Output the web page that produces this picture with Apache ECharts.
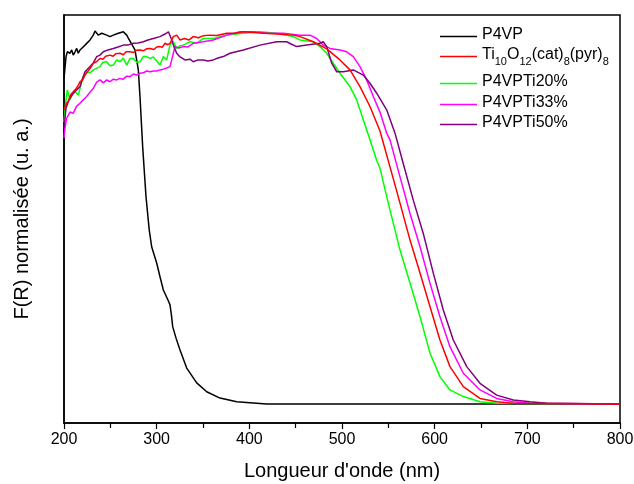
<!DOCTYPE html>
<html><head><meta charset="utf-8">
<script src="https://cdn.jsdelivr.net/npm/echarts@6/dist/echarts.min.js"></script>
<style>html,body{margin:0;padding:0;background:#fff}#c{width:634px;height:484px}</style>
</head><body><div id="c"></div>
<script>
const seriesNames = ['P4VP', 'Ti10O12(cat)8(pyr)8', 'P4VPTi20%', 'P4VPTi33%', 'P4VPTi50%'];
const xTicks = [200, 300, 400, 500, 600, 700, 800];

const P4VP = [[200,0.88],[202.2,0.939],[203.6,0.952],[206.5,0.948],[208.3,0.957],[210,0.943],[211.9,0.952],[213.7,0.961],[215.4,0.948],[217.3,0.957],[219.1,0.952],[222.7,0.970],[228.1,0.984],[231.6,0.997],[233.5,1.008],[237,0.997],[240.7,1.002],[246.1,0.997],[249.6,0.993],[253.2,0.997],[258.6,1.002],[264,1.006],[267.7,0.997],[269.4,0.989],[271.2,0.984],[276.6,0.957],[280.2,0.903],[282,0.831],[284.9,0.695],[288.5,0.560],[292,0.470],[294.6,0.425],[300,0.381],[303.6,0.344],[307.2,0.308],[312.2,0.281],[314.4,0.268],[315.9,0.241],[317.3,0.209],[320.9,0.178],[325.2,0.146],[332.4,0.097],[343.2,0.057],[354,0.033],[368.3,0.016],[386.4,0.006],[418.7,0],[800,0]];

const TI = [[200,0.795],[202.9,0.813],[205,0.82],[207,0.835],[210,0.844],[213,0.852],[215,0.86],[217.3,0.871],[220,0.875],[222.7,0.889],[226,0.9],[229,0.91],[231.6,0.921],[235,0.925],[238.8,0.934],[242,0.932],[245,0.94],[249.6,0.943],[253,0.94],[256,0.947],[260.4,0.948],[264,0.944],[267,0.952],[271.2,0.952],[275,0.95],[278,0.956],[282,0.957],[286,0.955],[289,0.96],[292.8,0.961],[297,0.958],[300,0.965],[303.6,0.966],[306,0.964],[309,0.975],[312,0.971],[314.4,0.975],[318,0.993],[321.6,0.997],[325.2,0.984],[330,0.988],[335,0.984],[339.5,0.993],[345,0.99],[350,0.995],[357.5,0.997],[365,0.996],[375.6,1.002],[385,1.002],[393.5,1.006],[411.5,1.003],[429.5,1.0],[447.4,0.997],[454.7,0.993],[469,0.979],[483.5,0.96],[497.8,0.930],[508.6,0.903],[519.4,0.858],[530.2,0.804],[541,0.738],[551.8,0.641],[562.6,0.543],[573.4,0.443],[584.2,0.354],[595,0.263],[605.7,0.173],[616.5,0.101],[630.9,0.047],[648.9,0.015],[666.9,0.006],[684.8,0.002],[800,0]];

const TI20 = [[200,0.762],[201.6,0.81],[203.6,0.849],[206.5,0.822],[208.6,0.835],[211.9,0.844],[215.4,0.835],[218.3,0.862],[220.8,0.885],[224.5,0.898],[228.1,0.895],[231.6,0.903],[235.6,0.908],[238.8,0.912],[242.1,0.924],[246.1,0.925],[249.6,0.914],[253.2,0.916],[256.9,0.930],[260.4,0.925],[264,0.935],[267.7,0.916],[271.2,0.934],[274.8,0.934],[278.4,0.924],[282,0.925],[285.6,0.939],[289.2,0.939],[292.8,0.934],[296.4,0.938],[300,0.927],[303.6,0.916],[307.2,0.939],[310.8,0.930],[314.4,0.970],[317.7,0.981],[321.6,0.961],[325.2,0.968],[328.7,0.970],[336,0.979],[343.2,0.975],[350.3,0.988],[361.1,0.988],[375.6,0.997],[393.5,1.002],[411.5,1.006],[429.5,1.002],[447.4,0.993],[454.7,0.984],[469,0.979],[476.3,0.966],[483.5,0.948],[490.6,0.921],[497.8,0.894],[508.6,0.858],[515.8,0.822],[523,0.768],[530.2,0.714],[537.4,0.659],[541,0.637],[551.8,0.524],[562.6,0.416],[573.4,0.327],[584.2,0.236],[595,0.137],[605.7,0.074],[616.5,0.038],[630.9,0.020],[648.9,0.006],[666.9,0.002],[800,0]];

const TI33 = [[200,0.719],[201.1,0.746],[202.9,0.773],[204.6,0.776],[206.5,0.789],[210,0.786],[213.7,0.805],[217.3,0.813],[220.8,0.822],[224.5,0.831],[228.1,0.843],[231.6,0.853],[235.3,0.870],[238.8,0.876],[242.4,0.868],[246.1,0.876],[249.6,0.871],[253.2,0.878],[256.9,0.876],[260.4,0.880],[264,0.878],[267.7,0.886],[271.2,0.885],[274.8,0.892],[278.4,0.889],[282,0.894],[285.6,0.895],[289.2,0.9],[292.8,0.898],[296.4,0.9],[300,0.9],[303.6,0.903],[307.2,0.905],[310.8,0.908],[314.4,0.912],[316.3,0.912],[318,0.948],[319.8,0.966],[324.1,0.962],[328.7,0.966],[333.8,0.965],[339.5,0.975],[350.3,0.979],[361.1,0.984],[375.6,0.997],[389.9,1.006],[404.3,1.006],[418.7,1.002],[436.6,1.002],[454.7,0.997],[465.5,0.997],[472.7,0.988],[479.8,0.970],[487,0.961],[497.8,0.957],[505.1,0.952],[512.2,0.939],[519.4,0.912],[526.6,0.876],[533.8,0.831],[541,0.789],[548.2,0.732],[551.8,0.714],[562.6,0.614],[573.4,0.515],[584.2,0.425],[595,0.326],[605.7,0.236],[616.5,0.155],[630.9,0.083],[648.9,0.038],[666.9,0.015],[684.8,0.006],[702.9,0.002],[800,0]];

const TI50 = [[200,0.746],[201.1,0.773],[202.2,0.8],[204.6,0.817],[206.5,0.827],[210,0.840],[213.7,0.849],[217.3,0.858],[219.4,0.876],[222.7,0.898],[228.1,0.912],[231.6,0.922],[235.3,0.939],[238.8,0.943],[242.4,0.952],[247.5,0.957],[253.2,0.961],[258.3,0.965],[264,0.970],[269,0.970],[274.8,0.975],[279.9,0.976],[285.6,0.979],[290.6,0.984],[296.4,0.988],[303.6,0.993],[309,1.0],[312.7,1.006],[314.4,1.003],[316.3,0.984],[318,0.970],[321.6,0.948],[325.2,0.938],[330.6,0.930],[336,0.932],[339.5,0.925],[344.6,0.930],[350.3,0.930],[355.4,0.927],[361.1,0.930],[366.2,0.935],[371.9,0.939],[379.1,0.948],[393.5,0.957],[411.5,0.970],[429.5,0.979],[440.3,0.979],[445,0.973],[451.1,0.966],[461.9,0.970],[476.3,0.975],[479.8,0.979],[483.5,0.966],[488.9,0.921],[494.3,0.898],[501.4,0.898],[512.2,0.903],[523,0.889],[530.2,0.867],[537.4,0.840],[548.2,0.795],[557.2,0.732],[566.1,0.650],[576.9,0.551],[587.7,0.461],[598.6,0.353],[609.3,0.254],[620.1,0.173],[634.6,0.101],[648.9,0.056],[666.9,0.024],[684.8,0.011],[702.9,0.006],[720.9,0.002],[800,0]];

const colors = ['#000000', '#ff0000', '#00ff00', '#ff00ff', '#800080'];
const dataSets = [P4VP, TI, TI20, TI33, TI50];
const zs = [2, 6, 3, 4, 5];
const legendTops = [22, 42, 69, 90, 110];

const font = '"Liberation Sans", Arial, sans-serif';
const chart = echarts.init(document.getElementById('c'), null, {renderer: 'canvas'});

const legends = seriesNames.map((n, i) => ({
  data: [{name: n, itemStyle: {color: colors[i]}}],
  left: 435,
  top: legendTops[i],
  orient: 'vertical',
  itemWidth: 37,
  itemHeight: 10,
  icon: 'path://M0,4.2 L37,4.2 L37,5.8 L0,5.8 Z',
  selectedMode: false,
  formatter: name => name === 'Ti10O12(cat)8(pyr)8'
      ? '{n|Ti}{s|10}{n|O}{s|12}{n|(cat)}{s|8}{n|(pyr)}{s|8}' : '{n|' + name + '}',
  textStyle: {
    color: '#000', fontFamily: font, fontSize: 16,
    rich: {
      n: {fontFamily: font, fontSize: 16, color: '#000', lineHeight: 19, verticalAlign: 'top'},
      s: {fontFamily: font, fontSize: 11, color: '#000', lineHeight: 19, verticalAlign: 'top', padding: [9, 0, 0, 0]}
    }
  }
}));

chart.setOption({
  animation: false,
  backgroundColor: '#fff',
  grid: {left: 64, right: 14, top: 15, bottom: 61, outerBoundsMode: 'none', containLabel: false,
         show: true, borderColor: '#000', borderWidth: 1.5, backgroundColor: 'transparent'},
  legend: legends,
  xAxis: {
    type: 'value', min: xTicks[0], max: xTicks[xTicks.length - 1], interval: 100,
    name: "Longueur d'onde (nm)", nameLocation: 'middle', nameGap: 38,
    nameTextStyle: {fontFamily: font, fontSize: 20, color: '#000'},
    axisLine: {show: true, onZero: false, lineStyle: {color: '#000', width: 1.5}},
    axisTick: {show: true, length: 6, inside: false, lineStyle: {color: '#000', width: 1.2}},
    minorTick: {show: true, splitNumber: 2, length: 5, lineStyle: {color: '#000', width: 1.2}},
    axisLabel: {fontFamily: font, fontSize: 16, color: '#000', margin: 9},
    splitLine: {show: false}
  },
  yAxis: {
    type: 'value', min: -0.0514, max: 1.0514,
    name: 'F(R) normalisée (u. a.)', nameLocation: 'middle', nameGap: 32,
    nameTextStyle: {fontFamily: font, fontSize: 20, color: '#000'},
    axisLine: {show: true, onZero: false, lineStyle: {color: '#000', width: 1.5}},
    axisTick: {show: false}, axisLabel: {show: false}, splitLine: {show: false}
  },
  series: seriesNames.map((n, i) => ({
    name: n, type: 'line', data: dataSets[i], showSymbol: false, symbol: 'none',
    z: zs[i], smooth: false,
    lineStyle: {color: colors[i], width: 1.5}, itemStyle: {color: colors[i]}
  }))
});
</script></body></html>
